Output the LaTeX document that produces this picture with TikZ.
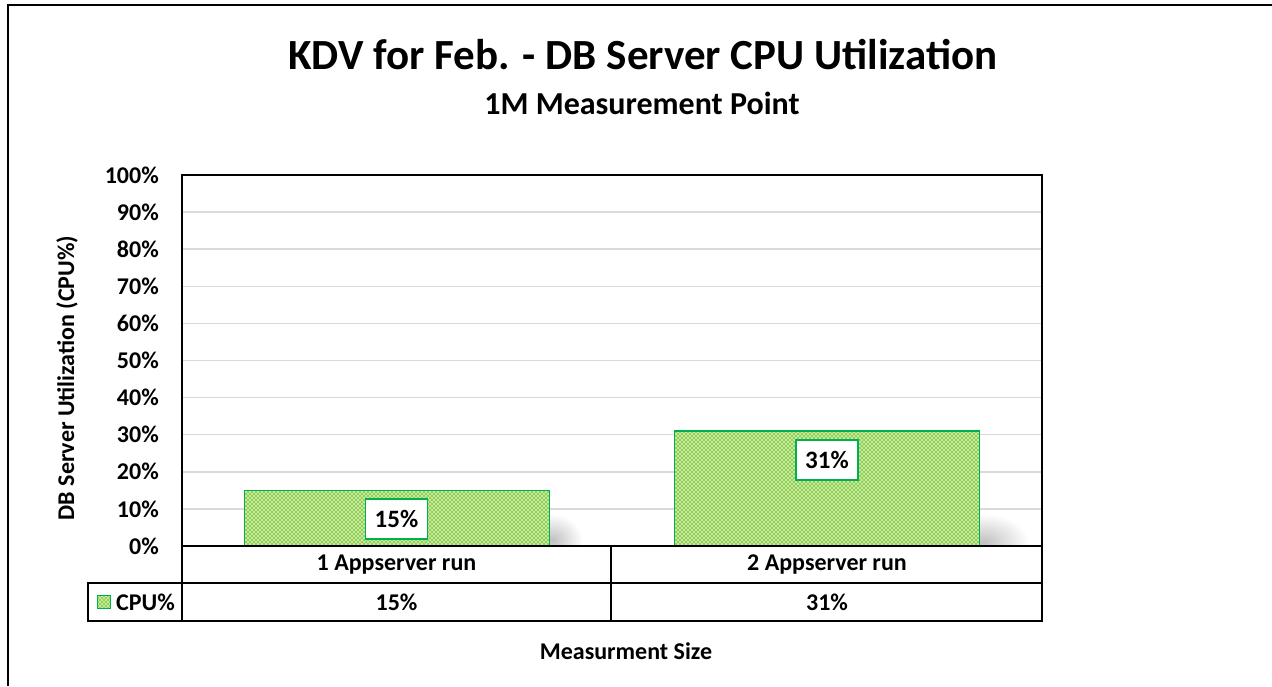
\documentclass[tikz,border=0pt]{standalone}
\usepackage{fontspec}
\setmainfont{Carlito}
\usetikzlibrary{patterns,fadings}
\definecolor{barg}{RGB}{146,208,80}
\definecolor{edgeg}{RGB}{0,176,80}
\definecolor{gridc}{RGB}{217,217,217}
\pgfdeclarepatternformonly{bardots}{\pgfqpoint{-1pt}{-1pt}}{\pgfqpoint{5pt}{5pt}}{\pgfqpoint{4pt}{4pt}}{%
  \pgfpathcircle{\pgfqpoint{0pt}{0pt}}{0.8pt}%
  \pgfpathcircle{\pgfqpoint{2pt}{2pt}}{0.8pt}%
  \pgfusepath{fill}}
\tikzfading[name=softfade, inner color=transparent!20, outer color=transparent!100]
\begin{document}
\begin{tikzpicture}[x=1pt,y=-1pt,
  lbl/.style={font=\bfseries\fontsize{24}{28}\selectfont, inner sep=0pt},
  barfill/.style={preaction={fill=barg}, pattern=bardots, pattern color=white, draw=edgeg, line width=1.5pt},
  databox/.style={font=\bfseries\fontsize{25}{28}\selectfont, inner sep=0pt, draw=edgeg, fill=white, line width=1.5pt, minimum width=62pt, minimum height=40pt},
  gridline/.style={gridc, line width=1.5pt},
  tbl/.style={black, line width=1.5pt},
  shadowfill/.style={black!30, path fading=softfade}]
\useasboundingbox (0,0) rectangle (1272,686);
\fill[white] (0,0) rectangle (1272,686);
% outer frame
\draw[black, line width=2.5pt] (1272,5) -- (8,5) -- (8,686);
% gridlines and tick labels
\foreach \k in {1,...,9}{
  \pgfmathsetmacro{\yy}{546-37.1*\k}
  \draw[gridline] (182,\yy) -- (1042,\yy);
}
\foreach \k in {0,...,10}{
  \pgfmathsetmacro{\yy}{546-37.1*\k}
  \pgfmathtruncatemacro{\pc}{10*\k}
  \node[lbl, anchor=east] (tick\k) at (159,\yy) {\pc\%};
}
% shadows
\begin{scope}
  \clip (550,440) rectangle (640,546);
  \fill[shadowfill] (552,540) ellipse [x radius=30pt, y radius=26pt];
\end{scope}
\begin{scope}
  \clip (979.5,440) rectangle (1040,546);
  \fill[shadowfill] (983,542) ellipse [x radius=45pt, y radius=28pt];
\end{scope}
% bars
\path[barfill] (244.5,546) rectangle (549.5,490.4);
\path[barfill] (674.5,546) rectangle (979.5,431);
% data labels
\node[databox] (d1) at (396.5,519) {15\%};
\node[databox] (d2) at (827,460) {31\%};
% plot area and data table
\draw[tbl] (182,175) rectangle (1042,621);
\draw[tbl] (182,546) -- (1042,546);
\draw[tbl] (88,583) -- (1042,583);
\draw[tbl] (611,546) -- (611,621);
\draw[tbl] (88,583) rectangle (182,621);
% table texts
\node[lbl] (c1) at (396.5,565) {1 Appserver run};
\node[lbl] (c2) at (827,565) {2 Appserver run};
\node[lbl] (v1) at (396.5,602.5) {15\%};
\node[lbl] (v2) at (827,602.5) {31\%};
\node[barfill, line width=1pt, minimum width=13pt, minimum height=13pt, inner sep=0pt] (key) at (104,602) {};
\node[lbl, anchor=west] (keytext) at (116,602.5) {CPU\%};
% titles
\node[inner sep=0pt, font=\bfseries\fontsize{43}{50}\selectfont] (title) at (643,55) {KDV for Feb. - DB Server CPU Utilization};
\node[inner sep=0pt, font=\bfseries\fontsize{32}{38}\selectfont] (subtitle) at (642,103) {1M Measurement Point};
\node[lbl, rotate=90] (ytitle) at (67,378) {DB Server Utilization (CPU\%)};
\node[lbl] (xtitle) at (626,651) {Measurment Size};
\end{tikzpicture}
\end{document}
